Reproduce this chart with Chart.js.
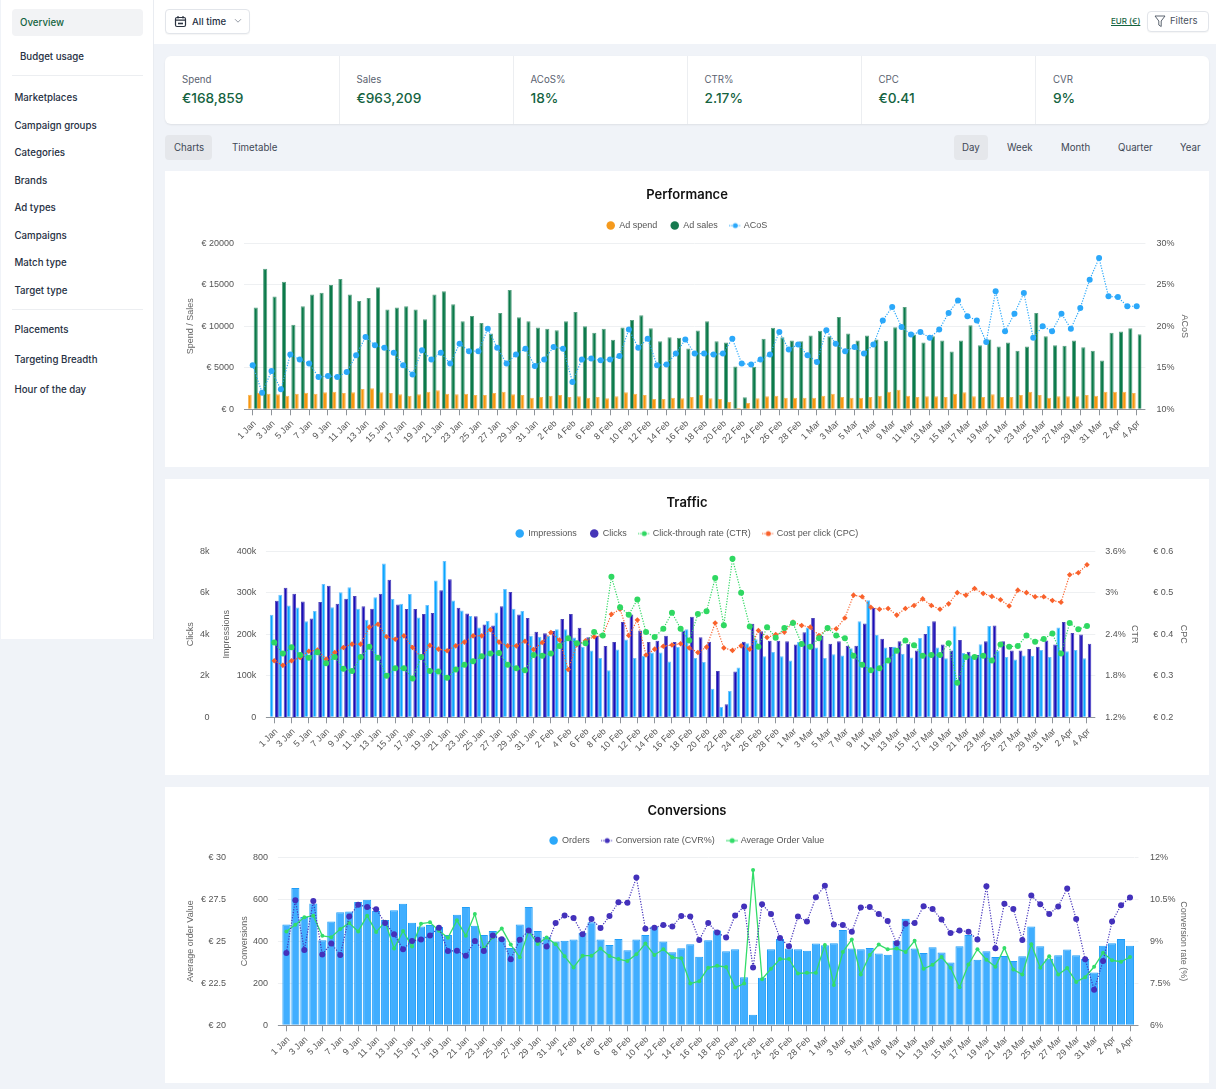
<!DOCTYPE html>
<html>
<head>
<meta charset="utf-8">
<title>Overview</title>
<script src="https://cdn.jsdelivr.net/npm/chart.js@4/dist/chart.umd.js"></script>
<style>
  * { box-sizing: border-box; }
  html, body { margin: 0; padding: 0; }
  body { width: 1216px; height: 1089px; position: relative; overflow: hidden; background: #f0f3f8; font-family: Inter, sans-serif; color: #1f2937; }
  .abs { position: absolute; white-space: nowrap; line-height: 1; }
  .side { left: 1px; top: 0; width: 153px; height: 639px; background: #fff; border-right: 1px solid #e9ecf1; }
  .top { left: 154px; top: 0; width: 1062px; height: 44px; background: #fff; }
  .pill { background: #f2f3f5; border-radius: 4px; }
  .nav { font-size: 9.7px; font-weight: 500; color: #252f42; margin-top: 1px; }
  .sep { left: 12px; width: 131px; height: 1px; background: #eceef1; }
  .btn { background: #fff; border: 1px solid #e2e5ea; border-radius: 4px; box-shadow: 0 1px 1px rgba(0,0,0,.04); }
  .kpis { left: 165px; top: 56px; width: 1044px; height: 68px; background: #fff; border-radius: 6px; box-shadow: 0 1px 2px rgba(0,0,0,.08); }
  .div { top: 56px; height: 68px; width: 1px; background: #eceef1; }
  .kl { top: 75px; font-size: 9.7px; color: #5a6270; }
  .kv { top: 91.5px; font-size: 13.7px; font-weight: 500; color: #14633f; }
  .tab { font-size: 9.7px; color: #3f4856; top: 143px; }
  .card { left: 165px; width: 1044px; height: 296px; background: #fff; }
  .card canvas { display: block; }
</style>
</head>
<body>
<div class="abs side"></div>
<div class="abs top"></div>

<div class="abs pill" style="left:12px;top:9px;width:131px;height:27px"></div>
<div class="abs nav" style="left:20px;top:17px;color:#14633f">Overview</div>
<div class="abs nav" style="left:20px;top:51px">Budget usage</div>
<div class="abs sep" style="top:75px"></div>
<div class="abs nav" style="left:14.5px;top:92px">Marketplaces</div>
<div class="abs nav" style="left:14.5px;top:120px">Campaign groups</div>
<div class="abs nav" style="left:14.5px;top:147px">Categories</div>
<div class="abs nav" style="left:14.5px;top:175px">Brands</div>
<div class="abs nav" style="left:14.5px;top:202px">Ad types</div>
<div class="abs nav" style="left:14.5px;top:230px">Campaigns</div>
<div class="abs nav" style="left:14.5px;top:257px">Match type</div>
<div class="abs nav" style="left:14.5px;top:285px">Target type</div>
<div class="abs sep" style="top:309px"></div>
<div class="abs nav" style="left:14.5px;top:324px">Placements</div>
<div class="abs nav" style="left:14.5px;top:354px">Targeting Breadth</div>
<div class="abs nav" style="left:14.5px;top:384px">Hour of the day</div>

<div class="abs btn" style="left:165px;top:9px;width:85px;height:25px"></div>
<svg class="abs" style="left:174px;top:15px" width="13" height="13" viewBox="0 0 13 13" fill="none" stroke="#2b3340" stroke-width="1.2">
  <rect x="1.5" y="2.5" width="10" height="9" rx="1.5"/><path d="M1.5 5.2h10M4 1v2.4M9 1v2.4"/><path d="M4 8.5h5" stroke-width="1.6"/>
</svg>
<div class="abs" style="left:192px;top:16.5px;font-size:9.6px;font-weight:500;color:#252f42">All time</div>
<svg class="abs" style="left:234px;top:18px" width="8" height="6" viewBox="0 0 8 6" fill="none" stroke="#8a919c" stroke-width="0.9"><path d="M1 1.2l3 3 3-3"/></svg>

<div class="abs" style="left:1111px;top:17px;font-size:8px;font-weight:500;color:#14633f;text-decoration:underline">EUR (€)</div>
<div class="abs btn" style="left:1147px;top:11px;width:62px;height:21px"></div>
<svg class="abs" style="left:1154px;top:15px" width="12" height="13" viewBox="0 0 12 13" fill="none" stroke="#4a5260" stroke-width="0.9"><path d="M1 1h10L7.2 6v5.5L4.8 10V6z"/></svg>
<div class="abs" style="left:1170px;top:16px;font-size:9.5px;color:#4a5260">Filters</div>

<div class="abs kpis"></div>
<div class="abs div" style="left:339px"></div>
<div class="abs div" style="left:513px"></div>
<div class="abs div" style="left:687px"></div>
<div class="abs div" style="left:861px"></div>
<div class="abs div" style="left:1035px"></div>
<div class="abs kl" style="left:182px">Spend</div>
<div class="abs kv" style="left:182px">€168,859</div>
<div class="abs kl" style="left:356.5px">Sales</div>
<div class="abs kv" style="left:356.5px">€963,209</div>
<div class="abs kl" style="left:530.5px">ACoS%</div>
<div class="abs kv" style="left:530.5px">18%</div>
<div class="abs kl" style="left:704.5px">CTR%</div>
<div class="abs kv" style="left:704.5px">2.17%</div>
<div class="abs kl" style="left:878.5px">CPC</div>
<div class="abs kv" style="left:878.5px">€0.41</div>
<div class="abs kl" style="left:1053px">CVR</div>
<div class="abs kv" style="left:1053px">9%</div>

<div class="abs" style="left:165px;top:135px;width:47px;height:25px;background:#e5e7eb;border-radius:4px"></div>
<div class="abs tab" style="left:174px">Charts</div>
<div class="abs tab" style="left:232px">Timetable</div>
<div class="abs" style="left:954px;top:135px;width:34px;height:25px;background:#e5e7eb;border-radius:4px"></div>
<div class="abs tab" style="left:962px">Day</div>
<div class="abs tab" style="left:1007px">Week</div>
<div class="abs tab" style="left:1061px">Month</div>
<div class="abs tab" style="left:1118px">Quarter</div>
<div class="abs tab" style="left:1180px">Year</div>

<div class="abs card" style="top:171px"><canvas id="performanceChart" width="1044" height="296"></canvas></div>
<div class="abs card" style="top:479px"><canvas id="trafficChart" width="1044" height="296"></canvas></div>
<div class="abs card" style="top:787px"><canvas id="conversionsChart" width="1044" height="296"></canvas></div>

<script>
const dates = [
    '1 Jan','2 Jan','3 Jan','4 Jan','5 Jan','6 Jan','7 Jan','8 Jan','9 Jan','10 Jan','11 Jan','12 Jan','13 Jan','14 Jan','15 Jan','16 Jan',
    '17 Jan','18 Jan','19 Jan','20 Jan','21 Jan','22 Jan','23 Jan','24 Jan','25 Jan','26 Jan','27 Jan','28 Jan','29 Jan','30 Jan','31 Jan',
    '1 Feb','2 Feb','3 Feb','4 Feb','5 Feb','6 Feb','7 Feb','8 Feb','9 Feb','10 Feb','11 Feb','12 Feb','13 Feb','14 Feb','15 Feb','16 Feb',
    '17 Feb','18 Feb','19 Feb','20 Feb','21 Feb','22 Feb','23 Feb','24 Feb','25 Feb','26 Feb','27 Feb','28 Feb','29 Feb',
    '1 Mar','2 Mar','3 Mar','4 Mar','5 Mar','6 Mar','7 Mar','8 Mar','9 Mar','10 Mar','11 Mar','12 Mar','13 Mar','14 Mar','15 Mar','16 Mar',
    '17 Mar','18 Mar','19 Mar','20 Mar','21 Mar','22 Mar','23 Mar','24 Mar','25 Mar','26 Mar','27 Mar','28 Mar','29 Mar','30 Mar','31 Mar',
    '1 Apr','2 Apr','3 Apr','4 Apr'
];

const adSpend = [
    1760,1960,1880,1800,1640,1880,2000,1880,2040,2120,1960,2040,2440,2520,2040,1960,1800,1640,1800,2120,2280,1880,1800,1880,1720,1720,1960,2120,1800,1720,1400,
    1480,1640,1720,1480,1560,1400,1480,1320,1560,2040,1880,1720,1240,1240,1400,1320,
    1480,1720,1320,1240,880,160,760,1320,1560,1640,1400,1400,1400,1400,1640,1880,1480,1400,1400,1480,1640,2120,2360,1640,1480,1560,1560,1480,1880,2040,1560,1480,
    1800,1480,1480,1720,2120,1720,1400,1560,1560,1560,1720,1640,2120,2120,2120,1960
];
const adSales = [
    12240,16920,13560,15360,10160,12400,13800,14040,14960,15680,13800,13040,13400,14680,12000,12240,12400,12000,10840,13800,14200,12640,10600,11240,10400,9120,11600,14360,11080,10600,9840,
    9680,9520,10600,11720,10000,9200,9680,8360,9840,10760,11320,9760,8200,8680,8600,7320,
    9480,10600,8200,8040,5160,1440,5120,8480,9800,8680,8280,8200,8880,9440,8800,11120,9120,8280,8880,8400,8240,9880,12320,9000,8040,8800,8280,6960,8280,10120,7720,8400,
    7560,8040,7040,7560,11600,8800,7720,7640,8280,7480,7040,5880,9200,9360,9760,9040
];
const acos = [
    15.3,12.0,14.6,12.4,16.6,16.0,15.5,13.9,14.0,13.9,14.5,16.5,18.7,17.7,17.4,16.8,15.3,14.2,17.1,16.0,16.8,15.5,17.9,17.0,17.0,19.7,17.4,15.5,16.6,17.3,15.2,
    16.0,17.5,17.3,13.3,16.0,16.1,15.9,16.0,16.4,19.6,17.4,18.5,15.3,15.4,16.7,18.4,
    16.7,16.7,16.6,16.7,18.5,15.5,15.4,16.0,16.6,19.3,17.2,17.8,16.5,15.7,19.5,17.9,17.0,17.5,16.7,17.8,20.7,22.3,19.9,19.0,19.3,18.6,19.6,21.6,23.1,21.2,20.7,18.1,
    24.2,19.4,21.5,24.0,18.6,20.0,19.4,21.5,19.7,22.2,25.6,28.2,23.6,23.5,22.4,22.4
];

const impressions = [
    247000,295000,269000,264000,231000,256000,321000,265000,301000,313000,261000,235000,289000,370000,285000,273000,297000,240000,270000,329000,376000,281000,257000,244000,216000,232000,252000,309000,261000,256000,196000,
    194000,196000,212000,212000,192000,170000,161000,143000,113000,163000,187000,143000,148000,156000,156000,134000,169000,212000,
    143000,133000,69000,25000,63000,120000,178000,188000,147000,157000,147000,137000,181000,216000,168000,143000,152000,149000,166000,231000,282000,198000,168000,170000,153000,144000,191000,220000,168000,142000,219000,
    155000,149000,176000,220000,161000,145000,139000,149000,148000,162000,145000,216000,159000,162000,142000
];
const clicks = [
    5610,6240,5950,5580,4750,5550,6330,5470,5710,5840,5340,5230,5950,6620,5430,5210,5210,4970,5020,6110,6640,5270,5000,4870,4470,4420,5340,6030,4950,4780,4120,
    4040,4150,4730,4970,4310,3850,3910,3430,3620,4590,4950,4180,3620,3690,3930,3620,4180,4840,
    3850,3640,2230,630,2200,3640,4500,4140,3690,3690,3660,3500,4090,4780,3910,3540,3660,3450,3450,4520,5260,3780,3380,3660,3540,3220,4010,4620,3500,3220,3720,
    3160,3000,3660,4420,3660,3220,3220,3290,3400,3700,3500,4590,4060,3980,3540
];
const ctr = [
    2.28,2.12,2.21,2.10,2.06,2.14,1.98,2.07,1.90,1.87,2.07,2.22,2.06,1.80,1.91,1.91,1.76,2.07,1.87,1.86,1.77,1.89,1.96,2.01,2.08,2.12,2.13,1.96,1.91,1.88,2.10,
    2.09,2.12,2.23,2.34,2.27,2.27,2.43,2.38,3.23,2.79,2.68,2.90,2.43,2.36,2.48,2.71,2.48,2.31,
    2.69,2.73,3.21,2.53,3.49,3.00,2.51,2.22,2.50,2.35,2.49,2.56,2.26,2.22,2.34,2.49,2.38,2.34,2.09,1.96,1.88,1.91,2.02,2.16,2.31,2.24,2.09,2.10,2.10,2.27,1.70,
    2.07,2.07,2.09,2.02,2.25,2.22,2.23,2.38,2.29,2.33,2.41,2.12,2.56,2.47,2.52
];
const cpc = [
    .336,.325,.336,.344,.359,.362,.340,.356,.368,.376,.376,.417,.424,.394,.388,.396,.368,.344,.373,.364,.360,.372,.381,.396,.396,.411,.381,.372,.372,.383,.363,
    .380,.404,.386,.315,.375,.384,.394,.397,.448,.460,.397,.434,.350,.364,.371,.374,.377,.367,
    .356,.369,.427,.367,.361,.372,.364,.409,.392,.399,.405,.429,.421,.417,.397,.413,.413,.439,.494,.490,.465,.460,.462,.446,.462,.469,.485,.469,.460,.473,.500,
    .494,.510,.498,.491,.483,.468,.506,.500,.490,.490,.481,.477,.543,.548,.567
];

const orders = [
    480,653,515,579,405,494,538,541,587,597,544,501,547,578,488,470,477,467,430,526,563,474,430,448,414,368,480,563,448,421,398,
    402,408,440,490,408,382,410,357,408,430,470,398,347,366,386,
    326,405,451,352,362,229,50,226,362,410,365,362,355,389,381,390,453,365,362,368,342,336,402,507,365,344,371,346,299,376,430,312,352,325,330,306,328,470,376,317,333,360,333,315,251,378,390,410,378
];
const cvr = [
    8.58,10.46,8.69,10.43,8.53,8.92,8.51,9.88,10.30,10.22,10.14,9.65,9.25,8.71,9.01,9.06,9.20,9.48,8.65,8.66,8.48,9.01,8.65,9.20,9.07,8.36,9.05,9.38,9.05,8.81,9.65,
    9.92,9.83,9.25,9.79,9.47,9.90,10.39,10.37,11.27,9.44,9.48,9.58,9.52,9.90,9.88,
    9.04,9.65,9.31,9.13,9.92,10.24,8.06,10.32,9.97,9.11,8.82,9.88,9.70,10.57,10.98,9.60,9.58,9.34,10.20,10.22,9.97,9.72,8.93,9.62,9.65,10.25,10.15,9.77,9.29,9.38,9.34,9.06,10.96,8.75,10.34,10.15,9.04,10.63,10.32,9.97,10.24,10.88,9.79,8.36,7.27,8.29,9.70,10.28,10.56
];
const orderValue = [
    25.58,25.98,26.42,26.52,25.32,25.24,25.72,26.08,25.58,26.52,25.54,26.16,24.56,25.60,24.68,26.04,26.12,25.62,25.20,26.24,25.32,26.62,24.56,25.24,25.76,24.80,24.04,25.60,24.84,25.22,24.82,
    24.10,23.44,24.14,24.14,24.56,24.12,23.94,23.82,24.22,24.86,24.18,24.52,24.04,23.98,22.48,
    22.62,23.42,23.54,23.46,22.24,22.48,29.24,22.74,23.36,23.94,23.94,23.08,23.12,23.12,24.78,22.40,24.36,25.10,23.02,24.18,24.80,24.52,24.56,24.36,25.02,23.36,23.60,24.06,23.42,22.26,23.62,24.52,23.90,23.48,24.60,23.32,23.02,24.82,23.42,24.10,23.02,23.40,22.58,22.86,23.48,24.32,23.86,23.78,24.06
];

const tickFont = { family: '"Liberation Sans", sans-serif', size: 9 };
const gridColor = '#eef0f2';
const axisColor = '#8f949a';

// small icon for the legend: a dotted or solid stroke with a dot on it
function lineIcon(color, dotted) {
    const c = document.createElement('canvas');
    c.width = 12;
    c.height = 8;
    const g = c.getContext('2d');
    g.strokeStyle = color;
    g.fillStyle = color;
    g.lineWidth = 1;
    if (dotted) g.setLineDash([1, 1]);
    g.beginPath();
    g.moveTo(0, 4);
    g.lineTo(12, 4);
    g.stroke();
    g.beginPath();
    g.arc(6, 4, 2.5, 0, Math.PI * 2);
    g.fill();
    return c;
}

function legendLabels(chart) {
    return Chart.defaults.plugins.legend.labels.generateLabels(chart).map(item => {
        const ds = chart.data.datasets[item.datasetIndex];
        item.fillStyle = ds.legendColor;
        item.strokeStyle = ds.legendColor;
        item.lineWidth = 0;
        item.lineDash = [];
        item.pointStyle = ds.type === 'line' ? lineIcon(ds.legendColor, ds.borderDash) : 'circle';
        return item;
    });
}

// the legend box needs a bit more room under it than labels.padding gives
function legendGap(extra) {
    return {
        id: 'legendGap',
        beforeLayout(chart) {
            const legend = chart.legend;
            if (legend.gapDone) return;
            const fit = legend.fit;
            legend.fit = function () {
                fit.call(this);
                this.height += extra;
            };
            legend.gapDone = true;
        }
    };
}

function xAxis() {
    return {
        offset: true,
        afterFit: s => { s.height = 57.7; },
        afterBuildTicks: s => { s.ticks = s.ticks.filter((t, i) => i % 2 === 0); },
        grid: { offset: false, drawOnChartArea: false, color: axisColor, tickLength: 6 },
        border: { color: axisColor },
        ticks: { autoSkip: false, maxRotation: 45, minRotation: 45, padding: 3, labelOffset: 2, color: '#555', font: tickFont }
    };
}

function yAxis(position, width, min, max, step, format, title, titleGap, labelGap, weight, showGrid) {
    return {
        type: 'linear',
        position,
        weight,
        min,
        max,
        afterFit: s => { s.width = width; },
        grid: {
            display: showGrid,
            drawTicks: showGrid,
            tickLength: 4,
            drawOnChartArea: position === 'left',
            color: ctx => (ctx.index === 0 ? axisColor : gridColor)
        },
        border: { display: false },
        ticks: { stepSize: step, padding: labelGap, color: '#555', font: tickFont, callback: format },
        title: { display: true, text: title, color: '#666', font: tickFont, padding: { top: titleGap, bottom: 0 } }
    };
}

function barSet(label, data, axis, fill, edge, legendColor, catPct, barPct) {
    return {
        type: 'bar', label, data, yAxisID: axis, order: 2,
        backgroundColor: fill, borderColor: edge, borderWidth: 1,
        categoryPercentage: catPct, barPercentage: barPct, legendColor
    };
}

function lineSet(label, data, axis, color, dotted, radius, style) {
    return {
        type: 'line', label, data, yAxisID: axis, order: 1,
        borderColor: color, backgroundColor: color, borderWidth: dotted ? 1.2 : 1.3,
        borderDash: dotted ? [1.2, 1.5] : undefined,
        pointRadius: radius, pointBorderWidth: 0, pointStyle: style || 'circle',
        tension: 0, legendColor: color
    };
}

function makeChart(id, title, datasets, scales, titleBottom, gap) {
    return new Chart(document.getElementById(id), {
        data: { labels: dates, datasets },
        plugins: [legendGap(gap)],
        options: {
            responsive: false,
            animation: false,
            scales,
            plugins: {
                title: {
                    display: true,
                    text: title,
                    color: '#111',
                    font: { family: 'Inter, sans-serif', size: 13, weight: '600' },
                    padding: { top: 16, bottom: titleBottom }
                },
                legend: {
                    position: 'top',
                    labels: {
                        usePointStyle: true,
                        boxWidth: 8,
                        boxHeight: 6,
                        padding: 13.5,
                        color: '#555',
                        font: tickFont,
                        sort: (a, b) => a.datasetIndex - b.datasetIndex,
                        generateLabels: legendLabels
                    }
                },
                tooltip: { enabled: false }
            }
        }
    });
}

makeChart('performanceChart', 'Performance', [
    barSet('Ad spend', adSpend, 'ySpend', '#f7970f', 'rgba(247,151,15,0.7)', '#f59a1d', 1.3, 0.68),
    barSet('Ad sales', adSales, 'ySpend', '#0b7a4a', 'rgba(20,122,80,0.7)', '#177a50', 1.3, 0.68),
    lineSet('ACoS', acos, 'yAcos', '#2ba8fa', true, 3)
], {
    x: xAxis(),
    ySpend: yAxis('left', 83, 0, 20000, 5000, v => `€ ${v}`, 'Spend / Sales', 20.6, 10, 1, true),
    yAcos: yAxis('right', 67.6, 10, 30, 5, v => `${v}%`, 'ACoS', 19.2, 11, 1, true)
}, 5, 3);

makeChart('trafficChart', 'Traffic', [
    barSet('Impressions', impressions, 'yImpressions', '#08a5ff', 'rgba(50,170,255,0.7)', '#2ba8fa', 1.25, 0.7),
    barSet('Clicks', clicks, 'yClicks', '#1a0cb8', 'rgba(70,60,180,0.95)', '#4636b8', 1.25, 0.7),
    lineSet('Click-through rate (CTR)', ctr, 'yCtr', '#2fd862', true, 3),
    lineSet('Cost per click (CPC)', cpc, 'yCpc', '#f9622c', true, 2.8, 'rectRot')
], {
    x: xAxis(),
    yClicks: yAxis('left', 54, 0, 8000, 2000, v => (v ? `${v / 1000}k` : '0'), 'Clicks', 20.6, 9.4, 2, false),
    yImpressions: yAxis('left', 50.9, 0, 400000, 100000, v => (v ? `${v / 1000}k` : '0'), 'Impressions', 2.5, 9.6, 1, true),
    yCtr: yAxis('right', 50.7, 1.2, 3.6, 0.6, v => `${+v.toFixed(1)}%`, 'CTR', 1.9, 10, 1, true),
    yCpc: yAxis('right', 67, 0.2, 0.6, 0.1, v => `€ ${+v.toFixed(1)}`, 'CPC', 19.9, 11.3, 2, false)
}, 5, 3);

makeChart('conversionsChart', 'Conversions', [
    barSet('Orders', orders, 'yOrders', '#40aeff', '#1f9ef8', '#2ba8fa', 1, 0.9),
    lineSet('Conversion rate (CVR%)', cvr, 'yCvr', '#4331bb', true, 3),
    lineSet('Average Order Value', orderValue, 'yValue', '#33dd6a', false, 2)
], {
    x: xAxis(),
    yValue: yAxis('left', 69, 20, 30, 2.5, v => `€ ${v}`, 'Average order Value', 20.6, 8.1, 2, false),
    yOrders: yAxis('left', 47.9, 0, 800, 200, v => `${v}`, 'Conversions', 5, 9.8, 1, true),
    yCvr: yAxis('right', 74.5, 6, 12, 1.5, v => `${v}%`, 'Conversion rate (%)', 19.9, 11.4, 1, true)
}, 4, 2);
</script>
</body>
</html>
